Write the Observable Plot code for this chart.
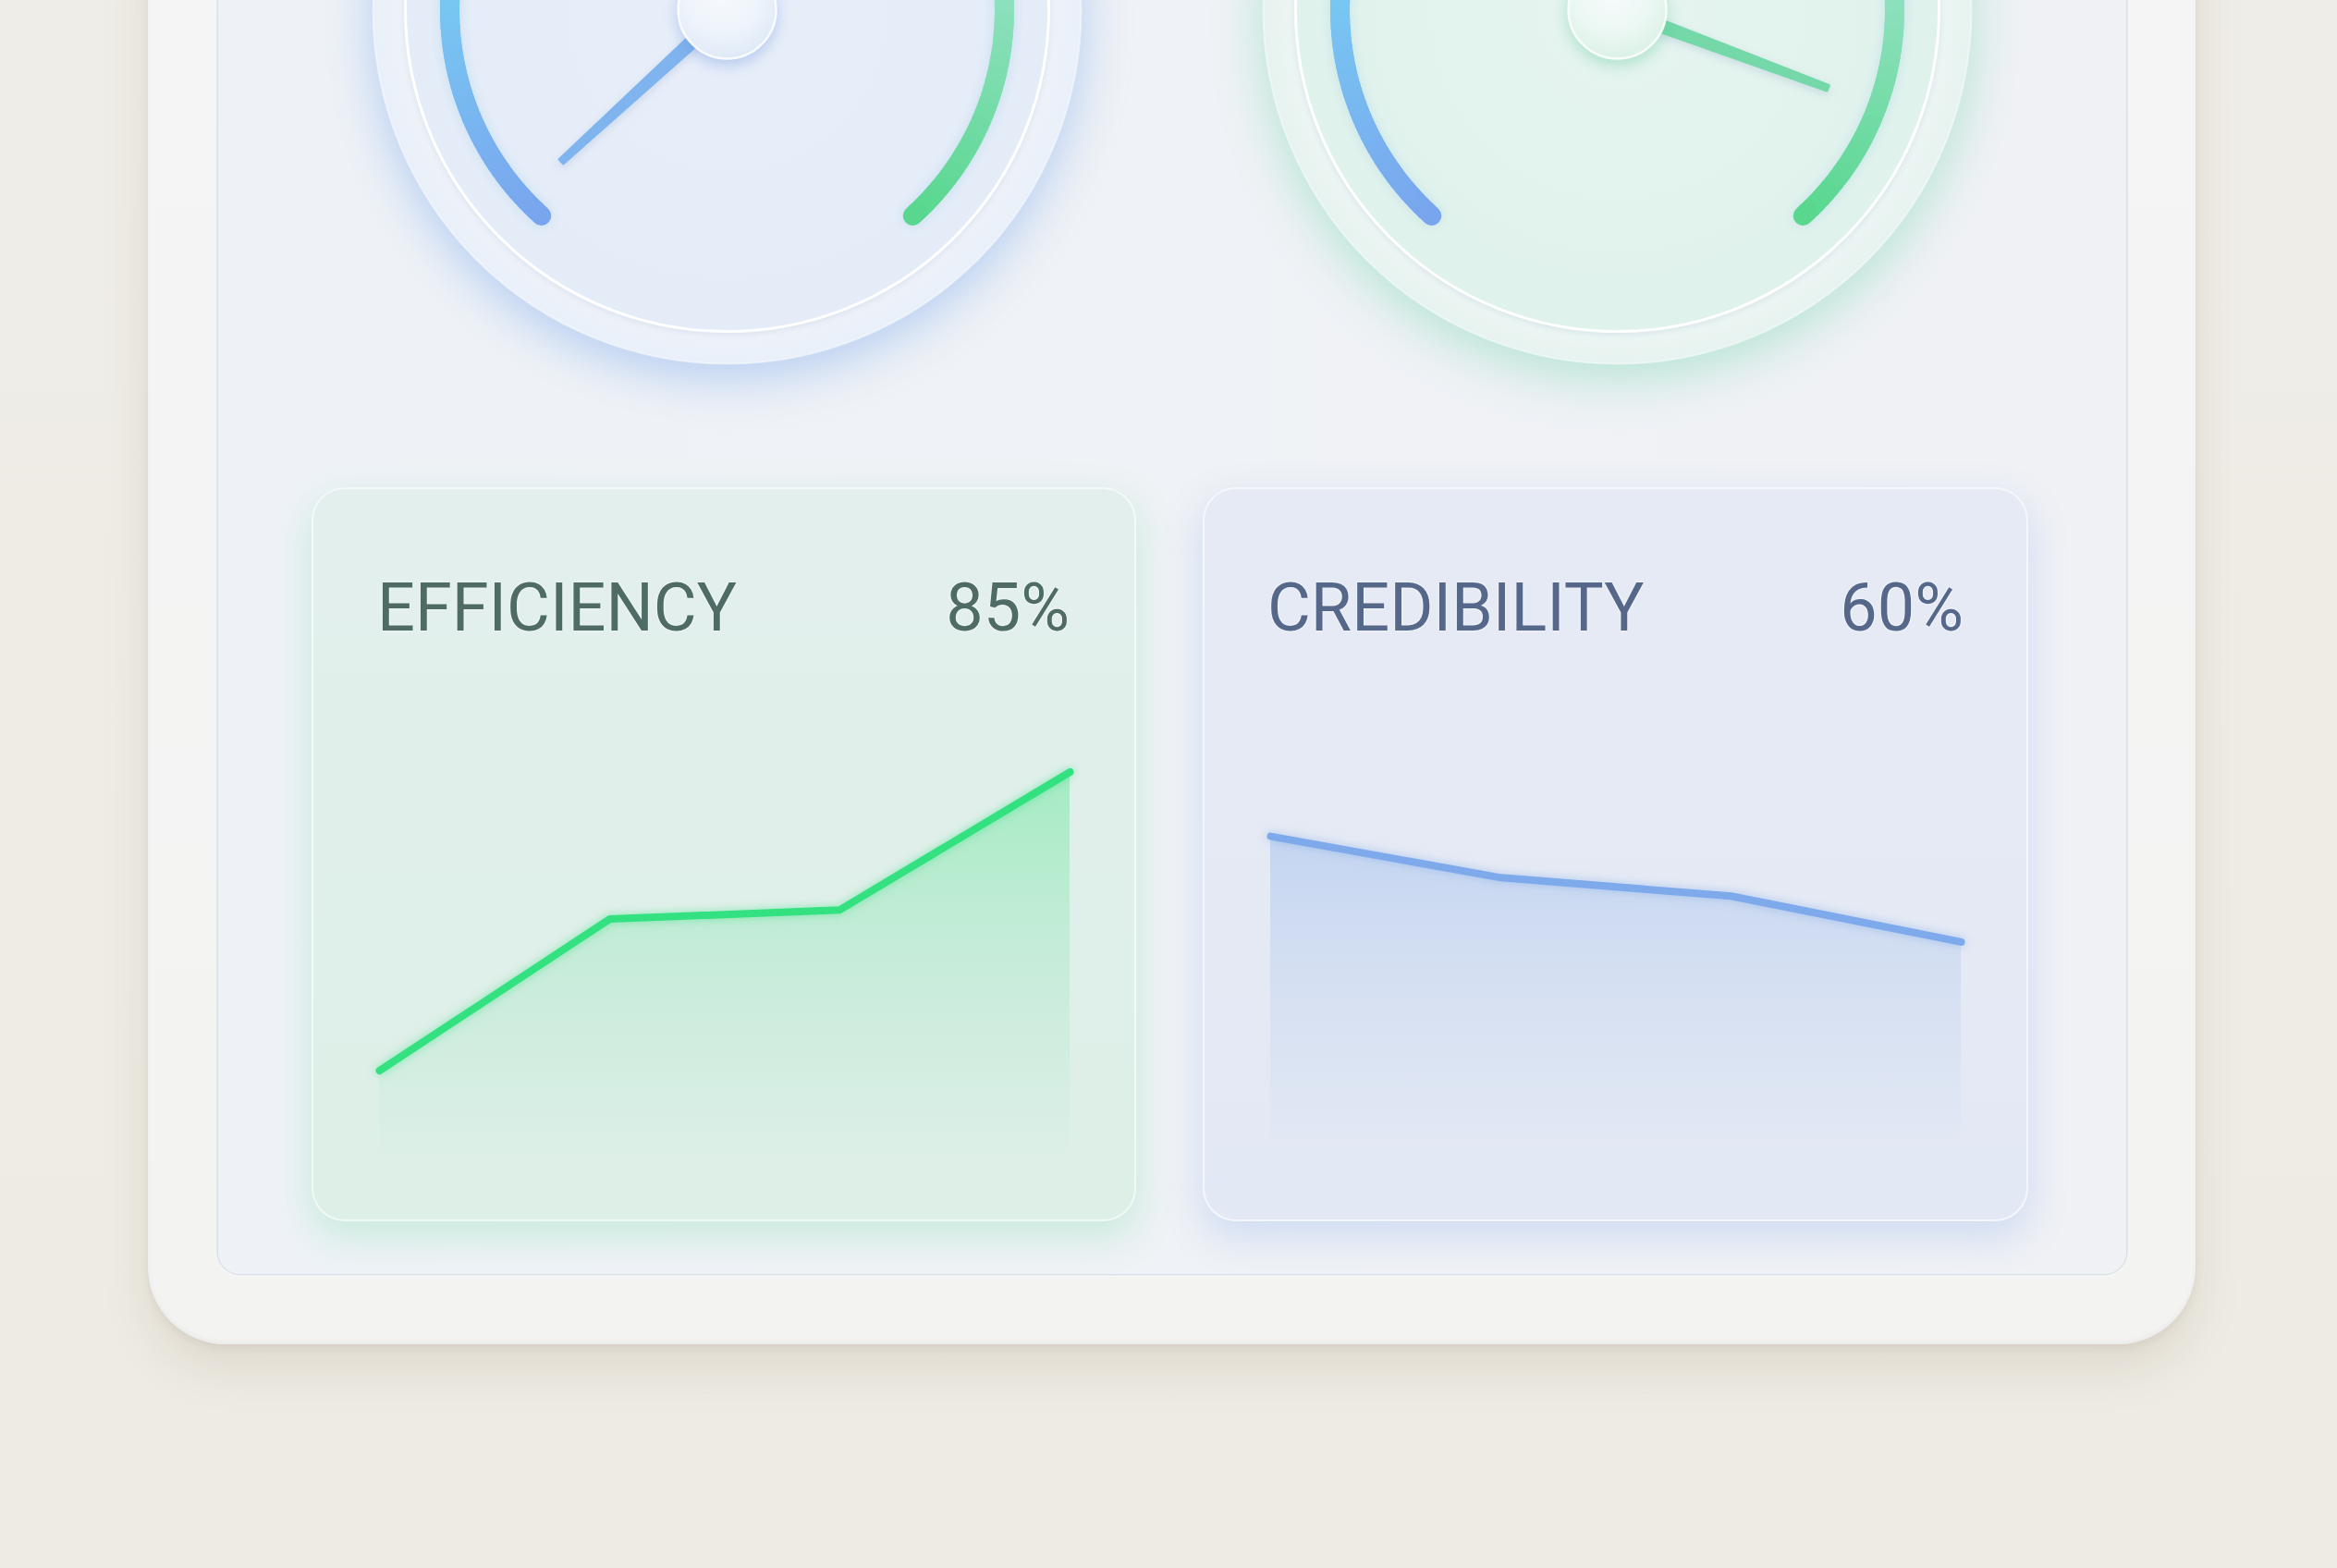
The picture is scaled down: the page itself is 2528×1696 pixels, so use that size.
<!DOCTYPE html>
<html>
<head>
<meta charset="utf-8">
<script src="https://cdn.jsdelivr.net/npm/d3@7"></script>
<script src="https://cdn.jsdelivr.net/npm/@observablehq/plot@0.6"></script>
<style>
  html, body { margin: 0; padding: 0; width: 2528px; height: 1696px; overflow: hidden; background: #eeebe4; }
  #page { position: relative; width: 2528px; height: 1696px; overflow: hidden;
          background: linear-gradient(180deg, #efede7 0%, #eeebe3 100%);
          font-family: Roboto, "Liberation Sans", sans-serif; }
  .abs { position: absolute; }
  .tablet { left: 160px; top: -200px; width: 2215px; height: 1654px; border-radius: 84px;
            background: linear-gradient(180deg, #f5f5f5 0%, #f3f3f2 100%);
            box-shadow: 0 26px 50px rgba(140,125,100,0.16), 0 4px 8px rgba(120,110,90,0.10), inset 0 -3px 5px rgba(0,0,0,0.035); }
  .screen { left: 236px; top: -200px; width: 2064px; height: 1578px; border-radius: 24px; overflow: hidden;
            background: linear-gradient(90deg, #eef2f7 0%, #eff2f6 50%, #eff1f5 100%);
            box-shadow: 0 0 0 1.5px rgba(205,212,220,0.7), 0 2px 3px rgba(255,255,255,0.9); }
  .card { border-radius: 36px; overflow: visible; }
  .card.eff { background: linear-gradient(180deg, #e3efed 0%, #ddefe7 100%);
              box-shadow: 0 16px 40px rgba(110,220,160,0.30), inset 0 0 0 2px rgba(255,255,255,0.6); }
  .card.cred { background: linear-gradient(180deg, #e6eaf4 0%, #e3e9f4 100%);
               box-shadow: 0 16px 40px rgba(130,170,235,0.30), inset 0 0 0 2px rgba(255,255,255,0.6); }
  .label { font-size: 72px; line-height: 72px; font-weight: 400; top: 95px; white-space: nowrap;
           text-shadow: 0 0 3px rgba(255,255,255,0.9); }
  .eff .label { color: #4e6b66; }
  .cred .label { color: #55688a; }
  .card svg { position: absolute; left: 0; top: 0; }
</style>
</head>
<body>
<div id="page">
  <div class="abs tablet"></div>
  <div class="abs screen" id="screen">
    <div class="abs" id="gauge0" style="left:100px; top:-240px; width:900px; height:900px;"></div>
    <div class="abs" id="gauge1" style="left:1063px; top:-240px; width:900px; height:900px;"></div>
    <div class="abs card eff" id="card0" style="left:101px; top:727px; width:892px; height:794px;">
      <div class="abs label" id="t0" style="left:71px;"></div>
      <div class="abs label" id="v0" style="right:72px;"></div>
    </div>
    <div class="abs card cred" id="card1" style="left:1065px; top:727px; width:893px; height:794px;">
      <div class="abs label" id="t1" style="left:70px;"></div>
      <div class="abs label" id="v1" style="right:70px;"></div>
    </div>
  </div>
</div>
<script>
// ---------------- data ----------------
const gaugeNames = ["Gauge A", "Gauge B"];
const gaugeValues = [2, 90];            // needle position, % of the gauge range

const periods = ["P1", "P2", "P3", "P4"];
const efficiency = [20, 53, 55, 85];    // EFFICIENCY trend
const credibility = [71, 62, 58, 48];   // CREDIBILITY trend

const cardTitles = ["EFFICIENCY", "CREDIBILITY"];
const cardValues = ["85%", "60%"];

cardTitles.forEach((t, i) => { document.getElementById("t" + i).textContent = t; });
cardValues.forEach((t, i) => { document.getElementById("v" + i).textContent = t; });

// ---------------- helpers ----------------
function defsMark(build) {
  return () => {
    const defs = d3.create("svg:defs");
    build(defs);
    return defs.node();
  };
}
function radial(defs, id, stops, cx = "50%", cy = "50%", r = "50%") {
  const g = defs.append("radialGradient").attr("id", id).attr("cx", cx).attr("cy", cy).attr("r", r);
  stops.forEach(([o, c, a = 1]) => g.append("stop").attr("offset", o).attr("stop-color", c).attr("stop-opacity", a));
}
function linear(defs, id, stops) {
  const g = defs.append("linearGradient").attr("id", id).attr("x1", 0).attr("y1", 0).attr("x2", 0).attr("y2", 1);
  stops.forEach(([o, c, a = 1]) => g.append("stop").attr("offset", o).attr("stop-color", c).attr("stop-opacity", a));
}

// ---------------- gauges ----------------
const START = -138, SPAN = 276, R_TRACK = 300, NEEDLE = 243;
const themes = [
  {ring: ["#eff3f9", "#e9f0f9"], dial: ["#e9eff9", "#e4ecf8"], hub: ["#eef4fb", "#dce7f6"],
   needle: "#7fb4ee", glow: "rgba(110,160,235,0.45)", hubShadow: "rgba(100,145,225,0.40)"},
  {ring: ["#edf6f4", "#e7f3f0"], dial: ["#e6f4f0", "#e0f2ec"], hub: ["#ecf8f3", "#d9f0e6"],
   needle: "#74d8a8", glow: "rgba(100,210,165,0.42)", hubShadow: "rgba(90,200,150,0.40)"}
];

function gauge(i) {
  const th = themes[i];
  const rad = v => (START + SPAN * v / 100) * Math.PI / 180;
  const steps = d3.range(0, 100, 0.5).map(v => ({v0: v, v1: Math.min(100, v + 0.7)}));
  const center = [{x: 0, y: 0}];
  // tapered needle outline derived from the gauge value (in the gauge's own polar frame)
  const a = rad(gaugeValues[i]);
  const ux = Math.sin(a), uy = Math.cos(a), px = Math.cos(a), py = -Math.sin(a);
  const outline = [[0, 7], [NEEDLE, 3], [NEEDLE, -3], [0, -7]].map(([d, w]) => ({
    name: gaugeNames[i], x: ux * d + px * w, y: uy * d + py * w
  }));
  return Plot.plot({
    width: 900, height: 900, margin: 0,
    x: {domain: [-450, 450], axis: null},
    y: {domain: [-450, 450], axis: null},
    color: {type: "linear", domain: [0, 18, 50, 82, 100],
            range: ["#79a4ee", "#78c6f2", "#86d8d6", "#8fe0bf", "#58d78e"], interpolate: "rgb"},
    style: {background: "transparent", overflow: "visible"},
    marks: [
      defsMark(defs => {
        radial(defs, `ring${i}`, [["0%", th.ring[0]], ["90%", th.ring[0]], ["100%", th.ring[1]]]);
        radial(defs, `dial${i}`, [["0%", th.dial[0]], ["100%", th.dial[1]]]);
        radial(defs, `hub${i}`, [["0%", "#f7fafd"], ["55%", th.hub[0]], ["100%", th.hub[1]]], "45%", "35%", "70%");
      }),
      Plot.dot(center, {x: "x", y: "y", r: 383, fill: `url(#ring${i})`, stroke: "#ffffff", strokeOpacity: 0.45, strokeWidth: 2,
                        imageFilter: `drop-shadow(0 14px 26px ${th.glow})`}),
      Plot.dot(center, {x: "x", y: "y", r: 348, fill: `url(#dial${i})`, stroke: "#ffffff", strokeWidth: 3,
                        imageFilter: "drop-shadow(0 2px 3px rgba(150,170,200,0.22))"}),
      Plot.link(steps, {
        x1: d => R_TRACK * Math.sin(rad(d.v0)), y1: d => R_TRACK * Math.cos(rad(d.v0)),
        x2: d => R_TRACK * Math.sin(rad(d.v1)), y2: d => R_TRACK * Math.cos(rad(d.v1)),
        stroke: "v0", strokeWidth: 21, strokeLinecap: "round",
        imageFilter: "drop-shadow(0 0 6px rgba(140,200,230,0.35))"
      }),
      Plot.line(outline, {x: "x", y: "y", fill: th.needle, stroke: th.needle, strokeWidth: 3,
                          strokeLinejoin: "round", curve: "linear-closed",
                          imageFilter: "drop-shadow(0 3px 4px rgba(120,150,190,0.25))"}),
      Plot.dot(center, {x: "x", y: "y", r: 53, fill: `url(#hub${i})`, stroke: "#ffffff", strokeOpacity: 0.85, strokeWidth: 2.5,
                        imageFilter: `drop-shadow(0 6px 8px ${th.hubShadow})`})
    ]
  });
}
document.getElementById("gauge0").append(gauge(0));
document.getElementById("gauge1").append(gauge(1));

// ---------------- trend cards ----------------
function trend(i, values, line, areaTop, areaBottom, topOpacity) {
  const data = periods.map((p, k) => ({period: p, value: values[k]}));
  return Plot.plot({
    width: 892, height: 794,
    marginLeft: 72, marginRight: 71, marginTop: 233, marginBottom: 64,
    x: {type: "point", domain: periods, padding: 0, axis: null},
    y: {domain: [0, 100], axis: null},
    style: {background: "transparent", overflow: "visible"},
    marks: [
      defsMark(defs => {
        linear(defs, `area${i}`, [["0%", areaTop, topOpacity], ["55%", areaBottom, topOpacity * 0.55], ["100%", areaBottom, 0]]);
      }),
      Plot.areaY(data, {x: "period", y: "value", fill: `url(#area${i})`}),
      Plot.lineY(data, {x: "period", y: "value", stroke: line, strokeWidth: 8,
                        strokeLinecap: "round", strokeLinejoin: "round",
                        imageFilter: `drop-shadow(0 0 5px ${line}88)`})
    ]
  });
}
document.getElementById("card0").append(trend(0, efficiency, "#33e180", "#7be9a8", "#9fe6c0", 0.6));
document.getElementById("card1").append(trend(1, credibility, "#7eaaeb", "#a9c4ee", "#bccfee", 0.55));
</script>
</body>
</html>
